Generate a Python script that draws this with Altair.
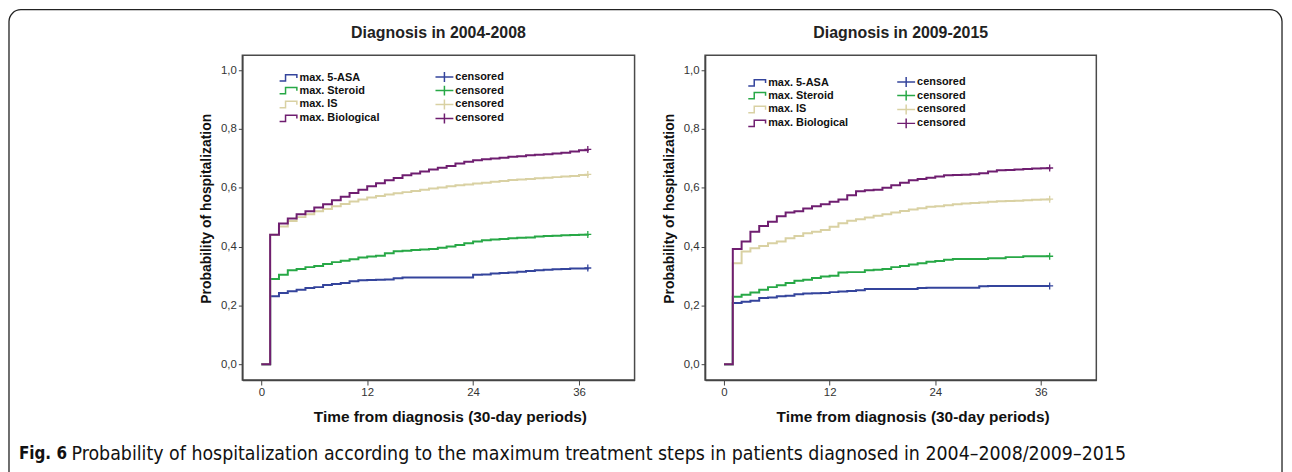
import altair as alt
import pandas as pd

# ---------------- data ----------------
months = [0, 1, 2, 3, 4, 5, 6, 7, 8, 9, 10, 11, 12, 13, 14, 15, 16, 17, 18, 19,
          20, 21, 22, 23, 24, 25, 26, 27, 28, 29, 30, 31, 32, 33, 34, 35, 36, 37]

# Diagnosis in 2004-2008
left_5asa = [0, .231, .242, .248, .253, .259, .262, .269, .273, .276,
             .282, .285, .286, .287, .288, .292, .295, .295, .295, .295,
             .295, .295, .295, .295, .304, .305, .308, .310, .312, .314,
             .317, .319, .321, .323, .324, .325, .325, .327]
left_steroid = [0, .290, .304, .319, .324, .330, .334, .341, .347, .352,
                .357, .363, .366, .369, .377, .384, .386, .388, .390, .392,
                .396, .400, .405, .411, .417, .421, .424, .426, .428, .430,
                .431, .434, .436, .437, .438, .439, .440, .441]
left_is = [0, .440, .468, .487, .500, .510, .520, .528, .537, .545,
           .553, .560, .567, .572, .577, .581, .585, .589, .593, .597,
           .601, .605, .608, .611, .614, .617, .620, .623, .626, .628,
           .630, .632, .634, .636, .638, .640, .643, .645]
left_bio = [0, .440, .478, .495, .510, .520, .533, .544, .557, .569,
            .582, .593, .605, .615, .625, .633, .642, .648, .655, .662,
            .668, .674, .682, .688, .693, .697, .699, .702, .705, .707,
            .710, .712, .714, .716, .719, .723, .727, .730]

# Diagnosis in 2009-2015
right_5asa = [0, .208, .212, .216, .225, .227, .231, .233, .238, .240,
              .241, .242, .245, .247, .249, .251, .256, .256, .256, .256,
              .256, .256, .259, .260, .260, .260, .260, .260, .260, .265,
              .266, .266, .266, .266, .266, .266, .266, .266]
right_steroid = [0, .229, .236, .244, .253, .262, .268, .276, .284, .287,
                 .293, .298, .301, .312, .313, .313, .319, .321, .324, .330,
                 .334, .339, .343, .348, .351, .355, .358, .358, .358, .358,
                 .360, .360, .364, .364, .367, .367, .367, .367]
right_is = [0, .343, .383, .394, .402, .411, .417, .428, .436, .445,
            .450, .456, .467, .479, .488, .493, .499, .505, .510, .516,
            .521, .526, .530, .535, .537, .540, .544, .546, .548, .550,
            .552, .554, .555, .556, .557, .559, .560, .561]
right_bio = [0, .392, .417, .450, .470, .484, .503, .516, .520, .529,
             .537, .544, .552, .560, .574, .588, .591, .593, .600, .608,
             .617, .625, .630, .634, .638, .642, .643, .644, .646, .649,
             .655, .659, .660, .662, .664, .665, .666, .667]

series_names = ["max. 5-ASA", "max. Steroid", "max. IS", "max. Biological"]
censor_names = ["censored", "censored ", "censored  ", "censored   "]
series_colors = ["#34449c", "#27a846", "#d9d1a3", "#6f1e70"]
x_ticks = [0, 12, 24, 36]
y_ticks = [0.0, 0.2, 0.4, 0.6, 0.8, 1.0]
panel_titles = ["Diagnosis in 2004-2008", "Diagnosis in 2009-2015"]
x_title = "Time from diagnosis (30-day periods)"
y_title = "Probability of hospitalization"
caption_bold = "Fig. 6"
caption_text = ("Probability of hospitalization according to the maximum treatment "
                "steps in patients diagnosed in 2004\u20132008/2009\u20132015")

# ---------------- styling ----------------
FONT = "Liberation Sans"
CAP_FONT = "DejaVu Sans Condensed, Liberation Sans"
STEP_PATH = "M-2.25,0.8H-0.75V-0.8H2.1V0.05"
LEG_CROSS = "M-2.25,0H2.25M0,-1.25V1.25"
PLOT_CROSS = "M-1,0H1M0,-1V1"

# column-major legend: series first, then the censored entries
legend_keys = series_names + censor_names
legend_colors = series_colors + series_colors
legend_shapes = [STEP_PATH] * 4 + [LEG_CROSS] * 4

X_DOMAIN = [-2.15, 42.3]
Y_DOMAIN = [-0.054, 1.05]
PLOT_H = 327


def build_panel(title, values, width, leg_x, leg_y, col_pad, decorate=False):
    rows = []
    for name, vals in zip(series_names, values):
        for t, v in zip(months, vals):
            rows.append({"t": t, "p": v, "key": name})
    df = pd.DataFrame(rows)
    ends = pd.DataFrame({"t": [months[-1]] * 4,
                         "p": [v[-1] for v in values],
                         "key": series_names})
    leg_df = pd.DataFrame({"t": [-999] * len(legend_keys), "p": [0] * len(legend_keys),
                           "key": legend_keys})
    one = pd.DataFrame({"a": [0]})

    color_scale = alt.Scale(domain=legend_keys, range=legend_colors)
    shape_scale = alt.Scale(domain=legend_keys, range=legend_shapes)
    legend = alt.Legend(orient="none", legendX=leg_x, legendY=leg_y, columns=2,
                        title=None, padding=0, labelFontSize=11,
                        labelFontWeight="bold", labelFont=FONT, labelColor="#111",
                        symbolSize=64, symbolStrokeWidth=1.5, labelOffset=5.5,
                        columnPadding=col_pad, rowPadding=-3.2,
                        symbolFillColor="transparent", symbolOpacity=1)

    x_enc = alt.X("t:Q", scale=alt.Scale(domain=X_DOMAIN, nice=False, zero=False),
                  axis=alt.Axis(values=x_ticks, title=x_title, grid=False,
                                tickSize=5, labelPadding=2, titlePadding=11,
                                titleX=209, titleAlign="center",
                                labelFontSize=11.5, titleFontSize=15.5,
                                titleFontWeight="bold", labelColor="#333",
                                titleColor="#111", tickColor="#444",
                                domainColor="#444", domainWidth=1.5,
                                labelFont=FONT, titleFont=FONT))
    y_enc = alt.Y("p:Q", scale=alt.Scale(domain=Y_DOMAIN, nice=False, zero=False),
                  axis=alt.Axis(values=y_ticks, title=y_title, grid=False,
                                tickSize=4, labelPadding=2, titlePadding=7,
                                titleY=154, titleAlign="center",
                                labelFontSize=11.5, titleFontSize=14,
                                titleFontWeight="bold", labelColor="#333",
                                titleColor="#111", tickColor="#444",
                                domainColor="#444", domainWidth=1.5,
                                labelFont=FONT, titleFont=FONT,
                                labelExpr="replace(format(datum.value, '.1f'), '.', ',')"))

    lines = alt.Chart(df).mark_line(interpolate="step-after", strokeWidth=2).encode(
        x=x_enc, y=y_enc,
        color=alt.Color("key:N", scale=color_scale, legend=legend),
        detail="key:N",
    )
    crosses = alt.Chart(ends).mark_point(shape=PLOT_CROSS, size=49, filled=False,
                                         strokeWidth=1.3, opacity=1).encode(
        x="t:Q", y="p:Q",
        color=alt.Color("key:N", scale=color_scale, legend=legend),
    )
    leg_layer = alt.Chart(leg_df).mark_point(filled=False, size=64, strokeWidth=1.5,
                                             opacity=1, clip=True).encode(
        x="t:Q", y="p:Q",
        color=alt.Color("key:N", scale=color_scale, legend=legend),
        shape=alt.Shape("key:N", scale=shape_scale, legend=legend),
    )
    head = alt.Chart(one).mark_text(text=title, font=FONT, fontSize=16,
                                    fontWeight="bold", align="center",
                                    baseline="middle", color="#222").encode(
        x=alt.value(width / 2), y=alt.value(-22))

    layers = [lines, crosses, leg_layer, head]

    if decorate:
        border = alt.Chart(one).mark_rect(fill="transparent", stroke="#222",
                                          strokeWidth=1.3, cornerRadius=12).encode(
            x=alt.value(-235), x2=alt.value(1047), y=alt.value(-46), y2=alt.value(432))
        cap1 = alt.Chart(one).mark_text(text=caption_bold, font=CAP_FONT, fontSize=17,
                                        fontWeight="bold", align="left",
                                        baseline="middle", color="#111").encode(
            x=alt.value(-225), y=alt.value(401))
        cap2 = alt.Chart(one).mark_text(text=caption_text, font=CAP_FONT, fontSize=19.5,
                                        align="left", baseline="middle",
                                        color="#111").encode(
            x=alt.value(-172), y=alt.value(401))
        layers += [border, cap1, cap2]

    return alt.layer(*layers).properties(
        width=width, height=PLOT_H,
        view=alt.ViewBackground(stroke="#4a4a4a", strokeWidth=1.5),
    )


left = build_panel(panel_titles[0], [left_5asa, left_steroid, left_is, left_bio],
                   395, 41, 16, 52, decorate=True)
right = build_panel(panel_titles[1], [right_5asa, right_steroid, right_is, right_bio],
                    394, 47, 21, 45)

chart = alt.hconcat(left, right, spacing=71, bounds="flush").resolve_scale(
    color="independent", shape="independent"
).resolve_legend(color="independent", shape="independent").properties(
    padding={"left": -1, "top": -2, "right": 0, "bottom": 0}
).configure_view(stroke="#4a4a4a", strokeWidth=1.5).configure(background="white")

chart.save("out.html", embed_options={"renderer": "svg", "actions": False})
